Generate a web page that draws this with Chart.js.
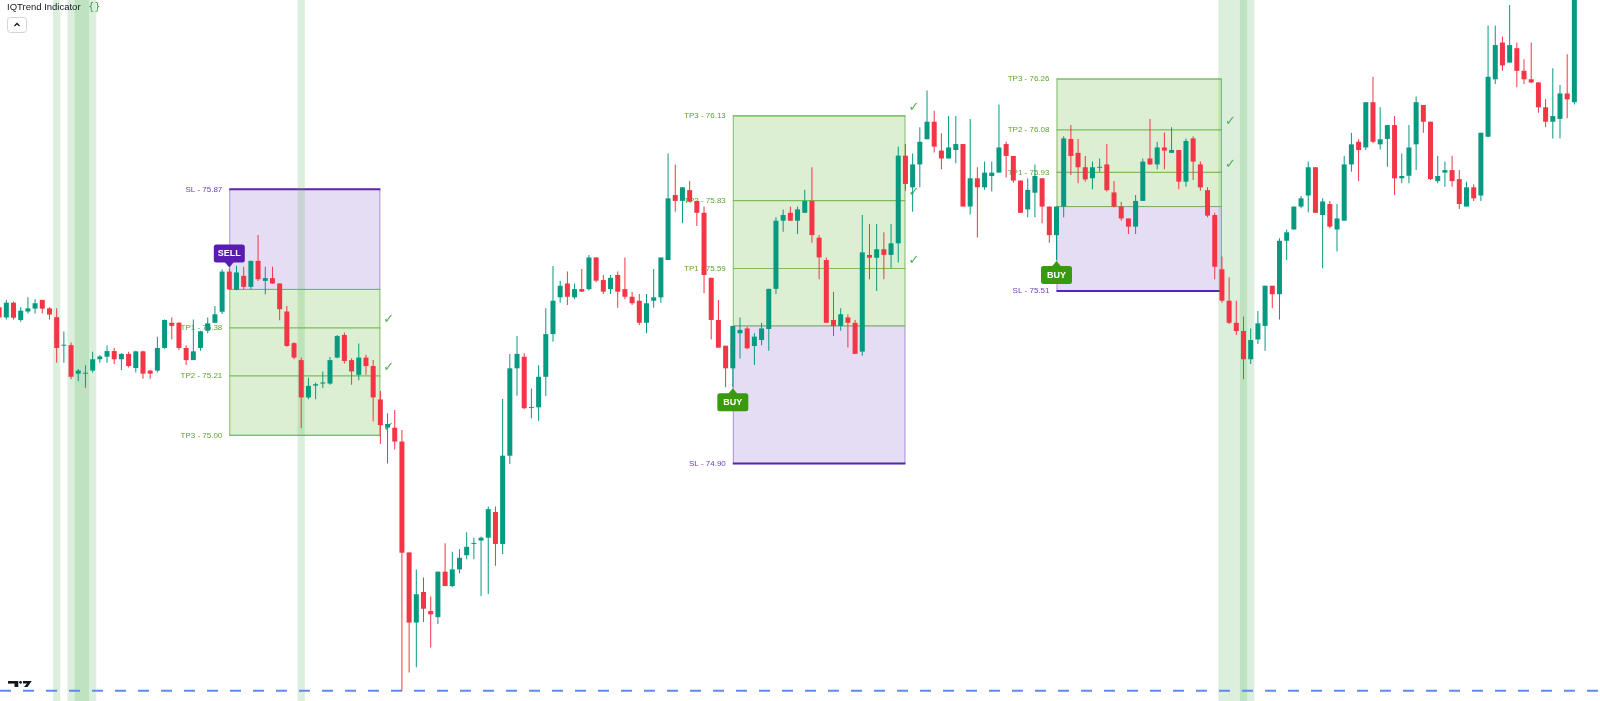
<!DOCTYPE html>
<html><head><meta charset="utf-8">
<script src="https://cdn.jsdelivr.net/npm/chart.js@4.4.0/dist/chart.umd.min.js"></script>
<style>html,body{margin:0;padding:0;background:#fff;overflow:hidden}#wrap{position:relative;width:1600px;height:701px}</style>
</head><body><div id="wrap"><canvas id="c" width="1600" height="701"></canvas></div>
<script>
const opens=[75.453,75.417,75.469,75.408,75.438,75.448,75.479,75.449,75.418,75.317,75.319,75.218,75.218,75.229,75.269,75.278,75.298,75.269,75.288,75.238,75.297,75.229,75.229,75.309,75.398,75.398,75.309,75.266,75.309,75.370,75.398,75.437,75.579,75.515,75.564,75.525,75.617,75.546,75.556,75.537,75.438,75.326,75.266,75.134,75.176,75.183,75.183,75.275,75.355,75.266,75.214,75.275,75.245,75.127,75.028,75.027,74.978,74.586,74.338,74.446,74.379,74.357,74.518,74.467,74.526,74.576,74.616,74.628,74.638,74.729,74.616,74.928,75.237,75.278,75.097,75.099,75.207,75.358,75.488,75.537,75.488,75.517,75.517,75.629,75.549,75.517,75.567,75.517,75.490,75.476,75.398,75.476,75.488,75.620,75.850,75.829,75.867,75.829,75.787,75.557,75.408,75.317,75.237,75.361,75.378,75.316,75.337,75.376,75.518,75.759,75.787,75.759,75.787,75.829,75.699,75.620,75.408,75.387,75.417,75.398,75.296,75.638,75.628,75.658,75.638,75.679,75.989,75.877,75.958,76.047,76.109,76.007,75.979,76.009,76.030,75.809,75.909,75.877,75.917,75.929,76.030,75.988,75.901,75.799,75.858,75.909,75.809,75.708,75.809,76.048,75.999,75.948,75.909,75.946,75.958,75.859,75.809,75.767,75.738,75.829,75.979,75.958,76.018,75.999,76.009,75.897,76.050,75.958,75.867,75.779,75.587,75.476,75.398,75.369,75.269,75.339,75.387,75.529,75.499,75.688,75.728,75.809,75.848,75.948,75.779,75.818,75.728,75.759,75.958,76.038,76.018,76.178,76.029,76.048,76.097,75.909,75.918,76.029,76.168,76.109,75.899,75.929,75.938,75.906,75.809,75.877,75.848,76.056,76.259,76.389,76.318,76.369,76.289,76.259,76.248,76.160,76.109,76.119,76.209,76.178];
const highs=[75.455,75.479,75.473,75.453,75.488,75.481,75.479,75.453,75.449,75.367,75.328,75.235,75.248,75.296,75.284,75.318,75.309,75.290,75.296,75.299,75.299,75.231,75.349,75.410,75.417,75.401,75.319,75.410,75.370,75.417,75.457,75.587,75.590,75.600,75.596,75.617,75.708,75.596,75.596,75.537,75.457,75.329,75.275,75.204,75.187,75.226,75.277,75.355,75.364,75.273,75.325,75.285,75.266,75.157,75.078,75.090,75.019,74.586,74.526,74.497,74.430,74.518,74.618,74.588,74.598,74.657,74.638,74.642,74.748,74.748,75.129,75.288,75.351,75.290,75.166,75.248,75.449,75.599,75.547,75.579,75.537,75.588,75.638,75.629,75.567,75.567,75.579,75.629,75.508,75.500,75.500,75.588,75.629,75.997,75.958,75.877,75.899,75.829,75.809,75.557,75.479,75.317,75.387,75.417,75.384,75.361,75.398,75.518,75.771,75.799,75.809,75.809,75.868,75.948,75.708,75.629,75.508,75.449,75.428,75.408,75.779,75.747,75.747,75.718,75.747,76.021,76.030,75.997,76.089,76.219,76.148,76.068,76.129,76.129,76.030,76.119,75.948,75.968,75.968,76.170,76.038,75.988,75.901,75.909,75.958,75.909,75.809,75.809,76.058,76.097,76.048,75.988,75.968,75.979,76.030,75.899,75.826,75.767,75.850,75.979,76.119,76.038,76.071,76.089,76.009,76.050,76.058,75.968,75.877,75.787,75.632,75.559,75.476,75.420,75.378,75.440,75.529,75.529,75.697,75.728,75.809,75.846,75.968,75.948,75.838,75.829,75.818,75.989,76.070,76.047,76.178,76.268,76.160,76.097,76.129,75.997,76.097,76.198,76.168,76.109,75.989,75.968,75.989,75.938,75.897,75.888,76.070,76.449,76.449,76.410,76.522,76.389,76.330,76.389,76.248,76.189,76.298,76.239,76.348,76.620];
const lows=[75.414,75.410,75.410,75.402,75.431,75.431,75.431,75.410,75.257,75.257,75.198,75.191,75.168,75.222,75.257,75.257,75.252,75.231,75.240,75.222,75.200,75.200,75.222,75.306,75.339,75.302,75.249,75.266,75.299,75.361,75.396,75.429,75.515,75.513,75.517,75.517,75.546,75.499,75.535,75.407,75.313,75.269,75.025,75.128,75.128,75.167,75.179,75.273,75.254,75.179,75.195,75.214,75.049,74.969,74.900,74.950,74.097,74.161,74.180,74.340,74.250,74.333,74.467,74.463,74.512,74.562,74.562,74.432,74.439,74.539,74.580,74.899,75.140,75.092,75.060,75.052,75.139,75.331,75.469,75.461,75.481,75.507,75.512,75.541,75.500,75.500,75.451,75.481,75.461,75.390,75.361,75.451,75.469,75.620,75.791,75.750,75.826,75.740,75.502,75.339,75.310,75.170,75.170,75.272,75.304,75.249,75.319,75.299,75.500,75.720,75.759,75.712,75.787,75.681,75.552,75.398,75.351,75.370,75.311,75.288,75.281,75.552,75.510,75.552,75.591,75.611,75.865,75.791,75.877,76.047,76.000,75.941,75.979,75.962,75.809,75.781,75.700,75.868,75.862,75.929,75.912,75.893,75.787,75.771,75.771,75.750,75.681,75.620,75.771,75.921,75.891,75.897,75.870,75.932,75.862,75.806,75.759,75.712,75.712,75.829,75.956,75.941,75.941,75.999,75.870,75.879,75.903,75.865,75.771,75.552,75.469,75.394,75.355,75.198,75.252,75.323,75.299,75.449,75.410,75.620,75.728,75.803,75.789,75.787,75.591,75.732,75.650,75.759,75.932,75.899,76.009,76.033,76.011,75.950,75.850,75.891,75.891,75.938,76.070,75.903,75.891,75.879,75.879,75.800,75.809,75.829,75.829,76.054,76.242,76.289,76.318,76.231,76.242,76.245,76.141,76.089,76.050,76.050,76.121,76.170];
const closes=[75.417,75.469,75.416,75.441,75.449,75.467,75.448,75.427,75.309,75.319,75.207,75.229,75.220,75.269,75.279,75.298,75.269,75.288,75.245,75.297,75.218,75.218,75.309,75.408,75.387,75.309,75.266,75.297,75.368,75.396,75.428,75.579,75.516,75.576,75.525,75.617,75.552,75.556,75.537,75.446,75.316,75.275,75.134,75.175,75.181,75.187,75.266,75.351,75.263,75.226,75.275,75.245,75.134,75.036,75.040,74.978,74.585,74.338,74.438,74.387,74.367,74.518,74.467,74.526,74.567,74.606,74.618,74.638,74.739,74.616,74.928,75.237,75.288,75.096,75.099,75.207,75.358,75.476,75.529,75.490,75.517,75.508,75.629,75.547,75.508,75.557,75.508,75.490,75.467,75.398,75.467,75.488,75.629,75.838,75.829,75.877,75.826,75.787,75.567,75.408,75.310,75.237,75.387,75.373,75.308,75.349,75.378,75.518,75.759,75.779,75.759,75.799,75.829,75.708,75.629,75.398,75.387,75.428,75.398,75.288,75.647,75.628,75.658,75.638,75.679,75.989,75.889,75.958,76.038,76.109,76.021,75.979,76.018,76.030,75.809,75.909,75.877,75.929,75.929,76.018,75.988,75.901,75.787,75.868,75.917,75.809,75.708,75.809,76.050,75.988,75.948,75.905,75.948,75.949,75.867,75.809,75.767,75.738,75.829,75.968,75.958,76.018,76.007,76.009,75.897,76.041,75.968,75.877,75.777,75.596,75.476,75.398,75.369,75.269,75.337,75.396,75.529,75.499,75.688,75.718,75.809,75.838,75.948,75.787,75.827,75.738,75.767,75.958,76.029,76.009,76.178,76.038,76.047,76.097,75.909,75.917,76.018,76.178,76.109,75.906,75.917,75.938,75.899,75.818,75.877,75.838,76.070,76.268,76.380,76.308,76.380,76.289,76.259,76.248,76.160,76.109,76.129,76.209,76.188,76.620];

// signal bands: candle index ranges (first, last)
const bandStart=[8,10,11,42,170,173];
const bandEnd=[8,13,12,42,174,173];

// trades
const tradeSide=['SELL','BUY','BUY'];
const tradeStart=[32,102,147];
const tradeEnd=[53,126,170];
const tradeEntry=[75.516,75.387,75.809];
const tradeSL=[75.87,74.90,75.51];
const tradeTP1=[75.38,75.59,75.93];
const tradeTP2=[75.21,75.83,76.08];
const tradeTP3=[75.00,76.13,76.26];
const tradeHits=[[true,true,true],[true,true,true],[true,true,false]];
const lastPriceLine=74.097;

const UP='#089981', DOWN='#f23645';
const idx=opens.map((_,i)=>i);
const cols=idx.map(i=>closes[i]>=opens[i]?UP:DOWN);
const wickData=idx.map(i=>({x:i,y:[lows[i],highs[i]]}));
const bodyData=idx.map(i=>({x:i,y:[opens[i],closes[i]]}));

function rr(ctx,x,y,w,h,r){ctx.beginPath();ctx.moveTo(x+r,y);ctx.lineTo(x+w-r,y);ctx.arcTo(x+w,y,x+w,y+r,r);ctx.lineTo(x+w,y+h-r);ctx.arcTo(x+w,y+h,x+w-r,y+h,r);ctx.lineTo(x+r,y+h);ctx.arcTo(x,y+h,x,y+h-r,r);ctx.lineTo(x,y+r);ctx.arcTo(x,y,x+r,y,r);ctx.closePath();}

const overlay={
 id:'overlay',
 beforeDatasetsDraw(chart){
  const ctx=chart.ctx, xs=chart.scales.x, ys=chart.scales.y;
  ctx.save();
  for(let t=0;t<tradeSide.length;t++){
   const x0=xs.getPixelForValue(tradeStart[t]), x1=xs.getPixelForValue(tradeEnd[t]);
   const ye=ys.getPixelForValue(tradeEntry[t]), ysl=ys.getPixelForValue(tradeSL[t]);
   const tps=[tradeTP1[t],tradeTP2[t],tradeTP3[t]];
   const yt=tps.map(v=>ys.getPixelForValue(v));
   // purple risk zone
   ctx.fillStyle='rgba(126,87,194,0.2)';
   ctx.fillRect(x0,Math.min(ye,ysl),x1-x0,Math.abs(ysl-ye));
   ctx.strokeStyle='rgba(126,87,194,0.55)';ctx.lineWidth=1;
   ctx.strokeRect(x0+0.5,Math.min(ye,ysl),x1-x0-1,Math.abs(ysl-ye));
   // green reward zone
   ctx.fillStyle='rgba(120,190,80,0.25)';
   ctx.fillRect(x0,Math.min(ye,yt[2]),x1-x0,Math.abs(yt[2]-ye));
   ctx.strokeStyle='rgba(110,180,80,0.8)';
   ctx.strokeRect(x0+0.5,Math.min(ye,yt[2]),x1-x0-1,Math.abs(yt[2]-ye));
   // TP lines
   ctx.strokeStyle='#7dbb5c';ctx.lineWidth=1.2;
   yt.forEach(y=>{ctx.beginPath();ctx.moveTo(x0,y);ctx.lineTo(x1,y);ctx.stroke();});
   // SL line
   ctx.strokeStyle='#5b24b0';ctx.lineWidth=2;
   ctx.beginPath();ctx.moveTo(x0,ysl);ctx.lineTo(x1,ysl);ctx.stroke();
   // labels
   ctx.font='8px "Liberation Sans", Arial, sans-serif';ctx.textAlign='right';ctx.textBaseline='middle';
   ctx.fillStyle='#6b3fb8';
   ctx.fillText('SL - '+tradeSL[t].toFixed(2),x0-7,ysl);
   ctx.fillStyle='#5fa32c';
   tps.forEach((v,k)=>ctx.fillText('TP'+(k+1)+' - '+v.toFixed(2),x0-7,yt[k]));
   // checks
   ctx.font='13px "DejaVu Sans", sans-serif';ctx.textAlign='left';ctx.fillStyle='#4caf50';
   tradeHits[t].forEach((h,k)=>{if(h)ctx.fillText('✓',x1+3,yt[k]-8);});
  }
  // signal bands
  ctx.fillStyle='rgba(76,175,80,0.2)';
  for(let b=0;b<bandStart.length;b++){
   const a=xs.getPixelForValue(bandStart[b]-0.5), c=xs.getPixelForValue(bandEnd[b]+0.5);
   ctx.fillRect(a,0,c-a,chart.height);
  }
  // dashed price line
  const yl=ys.getPixelForValue(lastPriceLine);
  ctx.strokeStyle='#5b8def';ctx.lineWidth=2;ctx.setLineDash([11,12]);
  ctx.beginPath();ctx.moveTo(0,yl);ctx.lineTo(chart.width,yl);ctx.stroke();
  ctx.setLineDash([]);
  ctx.restore();
 },
 afterDatasetsDraw(chart){
  const ctx=chart.ctx, xs=chart.scales.x, ys=chart.scales.y;
  ctx.save();
  for(let t=0;t<tradeSide.length;t++){
   const i=tradeStart[t];
   const cx=xs.getPixelForValue(i);
   const w=31,h=18;
   let top,apex,baseY;
   if(tradeSide[t]==='SELL'){
    apex=ys.getPixelForValue(highs[i])-1; top=apex-5-h; baseY=top+h;
    ctx.fillStyle='#5a1cb0';
    rr(ctx,cx-w/2,top,w,h,2.5);ctx.fill();
    ctx.beginPath();ctx.moveTo(cx-5,baseY-1);ctx.lineTo(cx+5,baseY-1);ctx.lineTo(cx,apex);ctx.closePath();ctx.fill();
   } else {
    apex=ys.getPixelForValue(lows[i])+1; top=apex+5; baseY=top;
    ctx.fillStyle='#3a9a0e';
    rr(ctx,cx-w/2,top,w,h,2.5);ctx.fill();
    ctx.beginPath();ctx.moveTo(cx-5,top+1);ctx.lineTo(cx+5,top+1);ctx.lineTo(cx,apex);ctx.closePath();ctx.fill();
   }
   ctx.fillStyle='#ffffff';ctx.font='bold 9px "Liberation Sans", Arial, sans-serif';
   ctx.textAlign='center';ctx.textBaseline='middle';
   ctx.fillText(tradeSide[t],cx,top+h/2+0.5);
  }
  // title
  ctx.textAlign='left';ctx.textBaseline='alphabetic';
  ctx.fillStyle='#131722';ctx.font='9.5px "Liberation Sans", Arial, sans-serif';
  ctx.fillText('IQTrend Indicator',7,10);
  ctx.fillStyle='#3d9b48';ctx.font='10px "DejaVu Sans", sans-serif';
  ctx.fillText('{}',88,10);
  // collapse button
  ctx.strokeStyle='#d1d4dc';ctx.lineWidth=1;rr(ctx,7.5,17.5,19,15,3);ctx.stroke();
  ctx.strokeStyle='#131722';ctx.lineWidth=1.3;ctx.beginPath();ctx.moveTo(14.5,26);ctx.lineTo(17,23.5);ctx.lineTo(19.5,26);ctx.stroke();
  // logo
  ctx.fillStyle='#131722';
  ctx.fillRect(8,681,10,2.6);ctx.fillRect(14.5,681,3.8,6);
  ctx.beginPath();ctx.arc(20.6,682.3,1.4,0,Math.PI*2);ctx.fill();
  ctx.beginPath();ctx.moveTo(23,681);ctx.lineTo(31.7,681);ctx.lineTo(27.5,687);ctx.lineTo(24,687);ctx.lineTo(27,683.4);ctx.lineTo(23,683.4);ctx.closePath();ctx.fill();
  ctx.restore();
 }
};

new Chart(document.getElementById('c'),{
 type:'bar',
 data:{datasets:[
  {data:wickData,backgroundColor:cols,barThickness:1,grouped:false,minBarLength:1,inflateAmount:0,order:2},
  {data:bodyData,backgroundColor:cols,barThickness:5,grouped:false,minBarLength:1,inflateAmount:0,order:1}
 ]},
 options:{responsive:false,animation:false,events:[],layout:{padding:0},
  plugins:{legend:{display:false},tooltip:{enabled:false}},
  scales:{x:{type:'linear',min:0.121,max:222.562,display:false,offset:false,grid:{display:false}},
          y:{min:74.0606,max:76.5394,display:false,grid:{display:false}}}},
 plugins:[overlay]
});
</script></body></html>
